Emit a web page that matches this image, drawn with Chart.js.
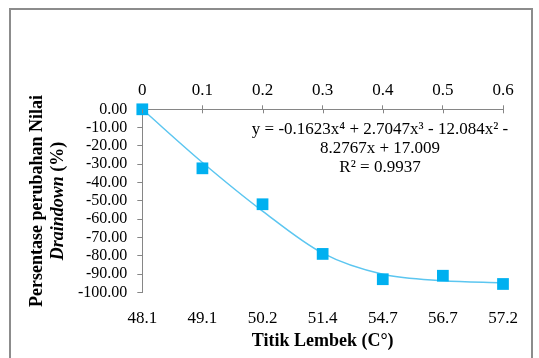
<!DOCTYPE html>
<html>
<head>
<meta charset="utf-8">
<title>Draindown</title>
<script src="https://cdn.jsdelivr.net/npm/chart.js@4/dist/chart.umd.min.js"></script>
<style>
    body { margin: 0; background: #fff; }
    #wrap { position: relative; width: 539px; height: 358px; }
    #frame {
        position: absolute; left: 9px; top: 8px; width: 520px; height: 360px;
        border: 2px solid #8c8c8c; pointer-events: none;
    }
</style>
</head>
<body>
<div id="wrap">
    <canvas id="chart" width="539" height="358"></canvas>
    <div id="frame"></div>
</div>
<script>
// Data
const softeningPoints = ['48.1', '49.1', '50.2', '51.4', '54.7', '56.7', '57.2'];
const topLabels = ['0', '0.1', '0.2', '0.3', '0.4', '0.5', '0.6'];
const draindownChange = [0, -32.2, -51.8, -78.9, -92.7, -90.8, -95.3];
const trendValues = [0, -29, -55.5, -78.5, -90, -93.5, -94.6];
const equationLines = ['y = -0.1623x\u2074 + 2.7047x\u00b3 - 12.084x\u00b2 -', '8.2767x + 17.009', 'R\u00b2 = 0.9937'];

const axisGray = '#868686';
const serif = "'Liberation Serif', 'Times New Roman', serif";

// Small tick marks crossing the top axis + titles that Chart.js can't do itself
const extrasPlugin = {
    id: 'extras',
    afterDraw(chart) {
        const ctx = chart.ctx;
        const area = chart.chartArea;
        const top = chart.scales.x2;

        ctx.save();
        ctx.strokeStyle = axisGray;
        ctx.lineWidth = 1;
        top.ticks.forEach((t, i) => {
            const px = Math.round(top.getPixelForTick(i)) + 0.5;
            ctx.beginPath();
            ctx.moveTo(px, area.top);
            ctx.lineTo(px, area.top + 4);
            ctx.stroke();
        });

        // trendline equation
        ctx.fillStyle = '#000';
        ctx.font = '17px ' + serif;
        ctx.textAlign = 'center';
        ctx.textBaseline = 'middle';
        equationLines.forEach((line, i) => {
            ctx.fillText(line, 380, 130 + i * 19);
        });

        // y axis title (two lines, second partly italic)
        ctx.translate(0, 201);
        ctx.rotate(-Math.PI / 2);
        ctx.font = 'bold 18px ' + serif;
        ctx.fillText('Persentase perubahan Nilai', 0, 37);

        const italicPart = 'Draindown';
        const plainPart = ' (%)';
        ctx.font = 'italic bold 18px ' + serif;
        const w1 = ctx.measureText(italicPart).width;
        ctx.font = 'bold 18px ' + serif;
        const w2 = ctx.measureText(plainPart).width;
        const start = -(w1 + w2) / 2;
        ctx.textAlign = 'left';
        ctx.font = 'italic bold 18px ' + serif;
        ctx.fillText(italicPart, start, 58);
        ctx.font = 'bold 18px ' + serif;
        ctx.fillText(plainPart, start + w1, 58);
        ctx.restore();
    }
};

const ctx = document.getElementById('chart').getContext('2d');
new Chart(ctx, {
    type: 'line',
    data: {
        labels: softeningPoints,
        datasets: [
            {
                label: 'Draindown',
                data: draindownChange,
                showLine: false,
                pointStyle: 'rect',
                pointRadius: 8.3,
                pointBackgroundColor: '#00b0f0',
                pointBorderWidth: 0,
                clip: false,
                order: 1
            },
            {
                label: 'Poly. trend',
                data: trendValues,
                borderColor: '#5cc6f0',
                borderWidth: 1.5,
                pointRadius: 0,
                cubicInterpolationMode: 'monotone',
                clip: false,
                order: 2
            }
        ]
    },
    options: {
        responsive: false,
        animation: false,
        layout: { padding: { left: 0, right: 36, top: 0, bottom: 2 } },
        plugins: {
            legend: { display: false },
            tooltip: { enabled: false }
        },
        scales: {
            x: {
                type: 'category',
                position: 'bottom',
                offset: false,
                grid: { display: false },
                border: { display: false },
                ticks: {
                    color: '#000',
                    font: { family: serif, size: 17 },
                    padding: 8,
                    maxRotation: 0,
                    autoSkip: false
                },
                title: {
                    display: true,
                    text: 'Titik Lembek (C\u00b0)',
                    color: '#000',
                    font: { family: serif, size: 18, weight: 'bold' },
                    padding: { top: 4, bottom: 4 }
                },
                afterFit(scale) { scale.height = 63.4; }
            },
            x2: {
                type: 'category',
                position: 'top',
                labels: topLabels,
                offset: false,
                grid: { drawOnChartArea: false, color: axisGray, tickLength: 4 },
                border: { display: true, color: axisGray, width: 1 },
                ticks: {
                    color: '#000',
                    font: { family: serif, size: 17 },
                    padding: 5,
                    maxRotation: 0,
                    autoSkip: false
                },
                afterFit(scale) { scale.height = 109.3; }
            },
            y: {
                min: -100,
                max: 0,
                grid: { drawOnChartArea: false, color: axisGray, tickLength: 5 },
                border: { display: true, color: axisGray, width: 1 },
                ticks: {
                    stepSize: 10,
                    autoSkip: false,
                    color: '#000',
                    font: { family: serif, size: 16 },
                    padding: 10,
                    callback: v => v.toFixed(2)
                },
                afterFit(scale) { scale.width = 142.3; }
            }
        }
    },
    plugins: [extrasPlugin]
});
</script>
</body>
</html>
